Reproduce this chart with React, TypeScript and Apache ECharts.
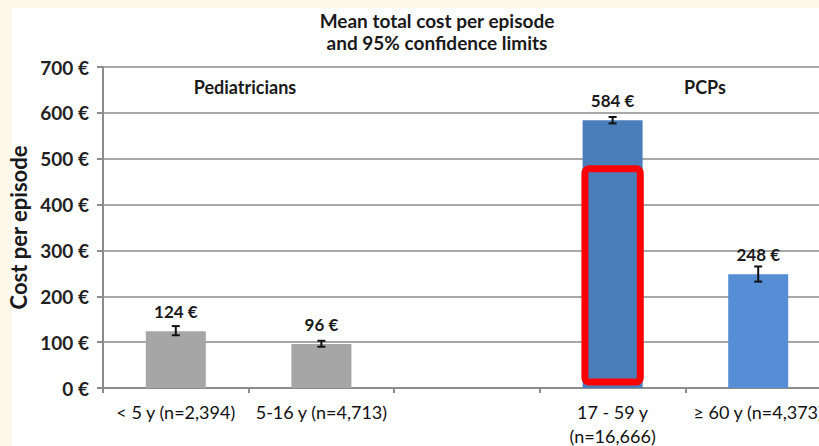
import React, { useEffect, useRef } from "react";
import * as echarts from "echarts";

const categories = ["< 5 y (n=2,394)", "5-16 y (n=4,713)", "", "17 - 59 y\n(n=16,666)", "≥ 60 y (n=4,373)"];
const meanCost = [124, 96, null, 584, 248];
const ciLow = [115, 90, null, 577, 232];
const ciHigh = [135, 103, null, 591, 265];
const barColors = ["#a6a6a6", "#a6a6a6", "#a6a6a6", "#4a7ebb", "#558ed5"];
const yTicks = [0, 100, 200, 300, 400, 500, 600, 700];
const highlight = [[3, 13, 478]];
const titleText = "Mean total cost per episode\nand 95% confidence limits";
const groupLabels = ["Pediatricians", "PCPs"];

const FONT = "Lato, 'Open Sans', sans-serif";

export default function App() {
  const ref = useRef<HTMLDivElement>(null);
  useEffect(() => {
    document.body.style.margin = "0";
    const chart = echarts.init(ref.current!, null, { renderer: "svg" });
    const errData = categories
      .map((_, i) => (meanCost[i] == null ? null : [i, ciLow[i], ciHigh[i]]))
      .filter((d) => d) as number[][];
    chart.setOption({
      animation: false,
      backgroundColor: "#fdf9ea",
      textStyle: { fontFamily: FONT },
      title: {
        text: titleText,
        left: 432,
        top: 4,
        textAlign: "center",
        textStyle: { fontSize: 19, fontWeight: "bold", color: "#1a1a1a", lineHeight: 22, fontFamily: FONT },
      },
      graphic: [
        { type: "rect", z: -10, shape: { x: 12, y: 8, width: 807, height: 438 }, style: { fill: "#ffffff" } },
        { type: "text", x: 245, y: 87, style: { text: groupLabels[0], fontSize: 18, fontWeight: "bold", fill: "#1a1a1a", fontFamily: FONT, align: "center", verticalAlign: "middle" } },
        { type: "text", x: 705, y: 87, style: { text: groupLabels[1], fontSize: 18, fontWeight: "bold", fill: "#1a1a1a", fontFamily: FONT, align: "center", verticalAlign: "middle" } },
      ],
      grid: { left: 103, top: 67, width: 728, height: 321, containLabel: false, outerBoundsMode: "none" },
      xAxis: {
        type: "category",
        data: categories,
        axisLine: { show: true, lineStyle: { color: "#8c8c8c", width: 2 } },
        axisTick: { show: true, length: 5, lineStyle: { color: "#8c8c8c", width: 2 } },
        axisLabel: { fontSize: 18, color: "#111", lineHeight: 24, margin: 12, fontFamily: FONT, interval: 0 },
      },
      yAxis: {
        type: "value",
        min: yTicks[0],
        max: yTicks[yTicks.length - 1],
        interval: 100,
        name: "Cost per episode",
        nameLocation: "middle",
        nameGap: 69,
        nameTextStyle: { fontSize: 22, fontWeight: "bold", color: "#1a1a1a", fontFamily: FONT },
        axisLine: { show: true, lineStyle: { color: "#8c8c8c", width: 2 } },
        axisTick: { show: true, length: 6, lineStyle: { color: "#8c8c8c", width: 2 } },
        axisLabel: { formatter: "{value} €", fontSize: 19, fontWeight: "bold", color: "#222", margin: 14, fontFamily: FONT },
        splitLine: { lineStyle: { color: "#a8a8a8", width: 2 } },
      },
      series: [
        {
          type: "bar",
          barWidth: 60,
          data: meanCost.map((v, i) => (v == null ? null : { value: v, itemStyle: { color: barColors[i] } })),
          label: {
            show: true,
            position: "top",
            distance: 11,
            formatter: "{c} €",
            fontSize: 17,
            fontWeight: "bold",
            color: "#1a1a1a",
            fontFamily: FONT,
          },
          z: 2,
        },
        {
          type: "custom",
          z: 3,
          data: errData,
          renderItem: (params: any, api: any) => {
            const x = api.value(0);
            const lo = api.coord([x, api.value(1)]);
            const hi = api.coord([x, api.value(2)]);
            const cap = 4;
            const st = { stroke: "#111", lineWidth: 2 };
            return {
              type: "group",
              children: [
                { type: "line", shape: { x1: lo[0], y1: lo[1], x2: hi[0], y2: hi[1] }, style: st },
                { type: "line", shape: { x1: lo[0] - cap, y1: lo[1], x2: lo[0] + cap, y2: lo[1] }, style: st },
                { type: "line", shape: { x1: hi[0] - cap, y1: hi[1], x2: hi[0] + cap, y2: hi[1] }, style: st },
              ],
            };
          },
        },
        {
          type: "custom",
          z: 4,
          data: highlight,
          renderItem: (params: any, api: any) => {
            const x = api.value(0);
            const lo = api.coord([x, api.value(1)]);
            const hi = api.coord([x, api.value(2)]);
            const w = api.size([1, 0])[0] * 0.38;
            return {
              type: "rect",
              shape: { x: hi[0] - w / 2, y: hi[1], width: w, height: lo[1] - hi[1], r: 4 },
              style: { fill: "none", stroke: "#ff0000", lineWidth: 7 },
            };
          },
        },
      ],
    });
    return () => chart.dispose();
  }, []);
  return <div ref={ref} style={{ width: 819, height: 446 }} />;
}
